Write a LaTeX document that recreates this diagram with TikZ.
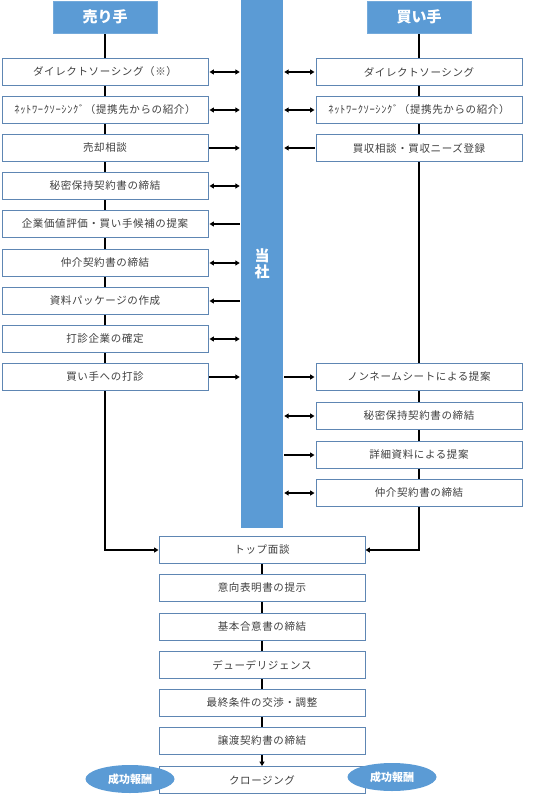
\documentclass[tikz,border=0pt]{standalone}
\usepackage{fontspec}
\setmainfont{Noto Sans CJK JP}
\newfontfamily\jp[LetterSpace=6]{Noto Sans CJK JP}
\usetikzlibrary{shapes.geometric,arrows.meta,backgrounds}
\definecolor{hdr}{HTML}{5B9BD5}
\definecolor{bord}{HTML}{5E86B3}
\definecolor{txt}{HTML}{404040}
\begin{document}
\begin{tikzpicture}[x=1pt,y=-1pt,
  stepbox/.style={draw=bord, line width=0.9pt, fill=white, minimum width=206pt, minimum height=27pt, inner sep=0pt, text=txt, font=\jp\fontsize{10.5}{12}\selectfont},
  hdrbox/.style={fill=hdr, draw=hdr!85!white, minimum width=104pt, minimum height=32pt, inner sep=0pt, text=white, font=\fontsize{15}{18}\selectfont\bfseries},
  fee/.style={ellipse, fill=hdr, minimum width=89pt, minimum height=28pt, inner sep=0pt, text=white, font=\fontsize{11}{13}\selectfont\bfseries},
  link/.style={line width=1.2pt, black},
  arr/.style={link, -{Triangle[length=4.5pt,width=5pt]}},
  darr/.style={link, {Triangle[length=4.5pt,width=5pt]}-{Triangle[length=4.5pt,width=5pt]}},
  side/.style={shorten <=1pt, shorten >=1pt}
]
\useasboundingbox (0,0) rectangle (533,794);
% headers and centre bar
\node[hdrbox] (hs) at (105,17) {売り手};
\node[hdrbox] (hb) at (419,17) {買い手};
\node[fill=hdr, minimum width=42pt, minimum height=528pt, inner sep=0pt, text=white, align=center, font=\fontsize{15}{16}\selectfont\bfseries] (bar) at (262,264) {当\\社};
% seller column
\node[stepbox] (l1) at (105,72) {ダイレクトソーシング（※）};
\node[stepbox] (l2) at (105,110) {ﾈｯﾄﾜｰｸｿｰｼﾝｸﾞ（提携先からの紹介）};
\node[stepbox] (l3) at (105,148) {売却相談};
\node[stepbox] (l4) at (105,186) {秘密保持契約書の締結};
\node[stepbox] (l5) at (105,224) {企業価値評価・買い手候補の提案};
\node[stepbox] (l6) at (105,263) {仲介契約書の締結};
\node[stepbox] (l7) at (105,301) {資料パッケージの作成};
\node[stepbox] (l8) at (105,339) {打診企業の確定};
\node[stepbox] (l9) at (105,377) {買い手への打診};
% buyer column
\node[stepbox] (r1) at (419,72) {ダイレクトソーシング};
\node[stepbox] (r2) at (419,110) {ﾈｯﾄﾜｰｸｿｰｼﾝｸﾞ（提携先からの紹介）};
\node[stepbox] (r3) at (419,148) {買収相談・買収ニーズ登録};
\node[stepbox] (r4) at (419,377) {ノンネームシートによる提案};
\node[stepbox] (r5) at (419,416) {秘密保持契約書の締結};
\node[stepbox] (r6) at (419,455) {詳細資料による提案};
\node[stepbox] (r7) at (419,493) {仲介契約書の締結};
% common steps
\node[stepbox] (c1) at (262,550) {トップ面談};
\node[stepbox] (c2) at (262,588) {意向表明書の提示};
\node[stepbox] (c3) at (262,627) {基本合意書の締結};
\node[stepbox] (c4) at (262,665) {デューデリジェンス};
\node[stepbox] (c5) at (262,703) {最終条件の交渉・調整};
\node[stepbox] (c6) at (262,741) {譲渡契約書の締結};
\node[stepbox] (c7) at (262,780) {クロージング};
\node[fee] (f1) at (130,779) {成功報酬};
\node[fee] (f2) at (392,777) {成功報酬};
% side arrows
\draw[darr,side] (l1.east) -- (l1.east -| bar.west);
\draw[darr,side] (l2.east) -- (l2.east -| bar.west);
\draw[arr,side]  (l3.east) -- (l3.east -| bar.west);
\draw[darr,side] (l4.east) -- (l4.east -| bar.west);
\draw[arr,side]  (l5.east -| bar.west) -- (l5.east);
\draw[darr,side] (l6.east) -- (l6.east -| bar.west);
\draw[arr,side]  (l7.east -| bar.west) -- (l7.east);
\draw[darr,side] (l8.east) -- (l8.east -| bar.west);
\draw[arr,side]  (l9.east) -- (l9.east -| bar.west);
\draw[darr,side] (r1.west -| bar.east) -- (r1.west);
\draw[darr,side] (r2.west -| bar.east) -- (r2.west);
\draw[arr,side]  (r3.west) -- (r3.west -| bar.east);
\draw[arr,side]  (r4.west -| bar.east) -- (r4.west);
\draw[darr,side] (r5.west -| bar.east) -- (r5.west);
\draw[arr,side]  (r6.west -| bar.east) -- (r6.west);
\draw[darr,side] (r7.west -| bar.east) -- (r7.west);
% spines
\begin{pgfonlayer}{background}
\draw[arr] (hs.south) |- (c1.west);
\draw[arr] (hb.south) |- (c1.east);
\draw[link] (c1.south) -- (c2.north);
\draw[link] (c2.south) -- (c3.north);
\draw[link] (c3.south) -- (c4.north);
\draw[link] (c4.south) -- (c5.north);
\draw[link] (c5.south) -- (c6.north);
\draw[arr] (c6.south) -- (c7.north);
\end{pgfonlayer}
\end{tikzpicture}
\end{document}
